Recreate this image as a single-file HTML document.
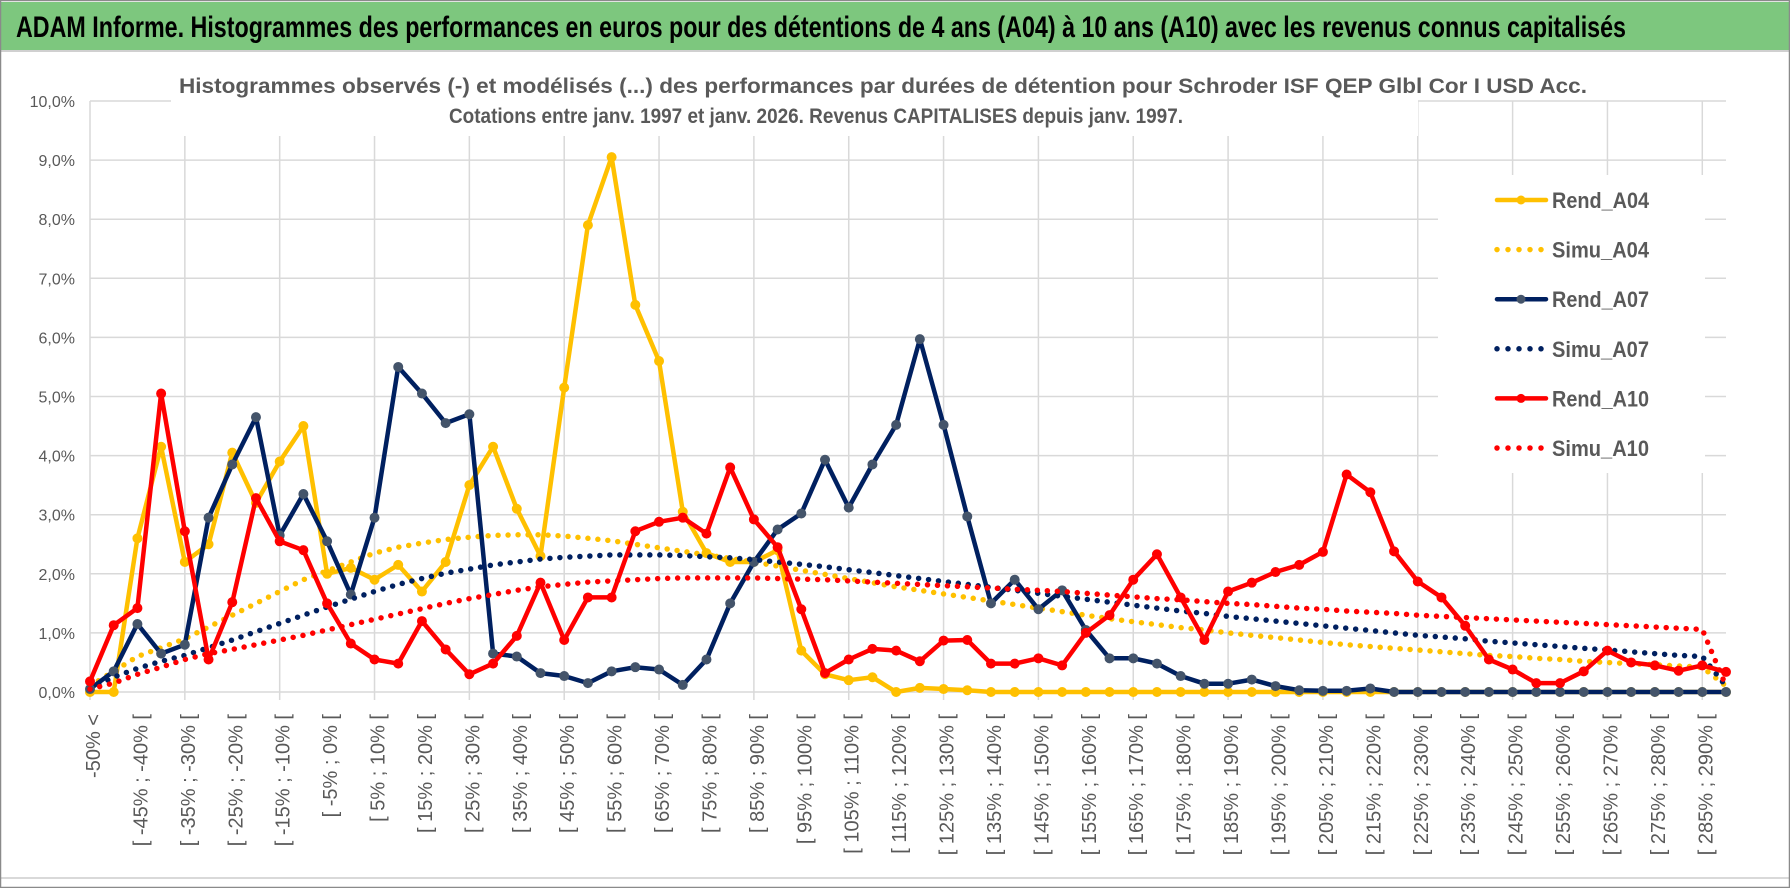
<!DOCTYPE html>
<html>
<head>
<meta charset="utf-8">
<style>
  html,body{margin:0;padding:0;background:#fff;}
  svg{display:block;}
  text{font-family:"Liberation Sans",sans-serif;}
</style>
</head>
<body>
<svg id="chart" width="1790" height="888" viewBox="0 0 1790 888" xmlns="http://www.w3.org/2000/svg">
  <rect x="0" y="0" width="1790" height="888" fill="#fff"/>
  <rect x="1" y="2" width="1788" height="48" fill="#7DC77E"/>
  <text x="16" y="37" font-size="30" font-weight="bold" fill="#000" textLength="1610" lengthAdjust="spacingAndGlyphs">ADAM Informe. Histogrammes des performances en euros pour des détentions de 4 ans (A04) à 10 ans (A10) avec les revenus connus capitalisés</text>
  <line x1="1" y1="51" x2="1789" y2="51" stroke="#d0d0d0" stroke-width="2"/>
  <line x1="1" y1="878" x2="1789" y2="878" stroke="#d9d9d9" stroke-width="2"/>
  <rect x="0.5" y="0.5" width="1789" height="887" fill="none" stroke="#8a8a8a" stroke-width="1.5"/>
  <g id="grid"></g>
  <g id="yaxis"></g>
  <g id="xaxis"></g>
  <g id="series"></g>
  <rect x="171" y="60" width="1247" height="76" fill="#fff"/>
  <text x="179" y="93" font-size="21" font-weight="bold" fill="#595959" textLength="1408" lengthAdjust="spacingAndGlyphs">Histogrammes observés (-) et modélisés (...) des performances par durées de détention pour Schroder ISF QEP Glbl Cor I USD Acc.</text>
  <text x="449" y="123" font-size="21" font-weight="bold" fill="#595959" textLength="734" lengthAdjust="spacingAndGlyphs">Cotations entre janv. 1997 et janv. 2026. Revenus CAPITALISES depuis janv. 1997.</text>
  <g id="legend"></g>
</svg>
<script>
const categories = ["-50% <","[ -50% ; -45% [","[ -45% ; -40% [","[ -40% ; -35% [","[ -35% ; -30% [","[ -30% ; -25% [","[ -25% ; -20% [","[ -20% ; -15% [","[ -15% ; -10% [","[ -10% ; -5% [","[ -5% ; 0% [","[ 0% ; 5% [","[ 5% ; 10% [","[ 10% ; 15% [","[ 15% ; 20% [","[ 20% ; 25% [","[ 25% ; 30% [","[ 30% ; 35% [","[ 35% ; 40% [","[ 40% ; 45% [","[ 45% ; 50% [","[ 50% ; 55% [","[ 55% ; 60% [","[ 60% ; 65% [","[ 65% ; 70% [","[ 70% ; 75% [","[ 75% ; 80% [","[ 80% ; 85% [","[ 85% ; 90% [","[ 90% ; 95% [","[ 95% ; 100% [","[ 100% ; 105% [","[ 105% ; 110% [","[ 110% ; 115% [","[ 115% ; 120% [","[ 120% ; 125% [","[ 125% ; 130% [","[ 130% ; 135% [","[ 135% ; 140% [","[ 140% ; 145% [","[ 145% ; 150% [","[ 150% ; 155% [","[ 155% ; 160% [","[ 160% ; 165% [","[ 165% ; 170% [","[ 170% ; 175% [","[ 175% ; 180% [","[ 180% ; 185% [","[ 185% ; 190% [","[ 190% ; 195% [","[ 195% ; 200% [","[ 200% ; 205% [","[ 205% ; 210% [","[ 210% ; 215% [","[ 215% ; 220% [","[ 220% ; 225% [","[ 225% ; 230% [","[ 230% ; 235% [","[ 235% ; 240% [","[ 240% ; 245% [","[ 245% ; 250% [","[ 250% ; 255% [","[ 255% ; 260% [","[ 260% ; 265% [","[ 265% ; 270% [","[ 270% ; 275% [","[ 275% ; 280% [","[ 280% ; 285% [","[ 285% ; 290% [","[ 290% ; 295% ["];
const yTicks = [0,1,2,3,4,5,6,7,8,9,10];
const yTickLabels = ["0,0%","1,0%","2,0%","3,0%","4,0%","5,0%","6,0%","7,0%","8,0%","9,0%","10,0%"];
const rendA04 = [0,0,2.6,4.15,2.2,2.5,4.05,3.2,3.9,4.5,2.0,2.1,1.9,2.15,1.7,2.2,3.5,4.15,3.1,2.3,5.15,7.9,9.05,6.55,5.6,3.05,2.35,2.2,2.2,2.4,0.7,0.3,0.2,0.25,0,0.07,0.05,0.03,0,0,0,0,0,0,0,0,0,0,0,0,0,0,0,0,0,0,0,0,0,0,0,0,0,0,0,0,0,0,0,0];
const simuA04 = [0.1,0.35,0.6,0.75,0.9,1.1,1.3,1.5,1.7,1.9,2.05,2.2,2.35,2.45,2.52,2.58,2.62,2.65,2.66,2.66,2.64,2.6,2.56,2.5,2.44,2.38,2.32,2.26,2.2,2.13,2.06,1.99,1.92,1.85,1.78,1.72,1.66,1.6,1.54,1.48,1.42,1.36,1.3,1.24,1.19,1.14,1.09,1.05,1.0,0.96,0.92,0.88,0.84,0.8,0.77,0.74,0.71,0.68,0.65,0.62,0.6,0.57,0.55,0.52,0.5,0.48,0.46,0.44,0.42,0.1];
const rendA07 = [0.05,0.35,1.15,0.65,0.8,2.95,3.85,4.65,2.65,3.35,2.55,1.65,2.95,5.5,5.05,4.55,4.7,0.65,0.6,0.32,0.27,0.15,0.35,0.42,0.38,0.12,0.55,1.5,2.2,2.75,3.02,3.93,3.12,3.85,4.52,5.97,4.52,2.97,1.5,1.9,1.4,1.72,1.05,0.57,0.57,0.48,0.27,0.14,0.14,0.21,0.1,0.03,0.02,0.02,0.06,0,0,0,0,0,0,0,0,0,0,0,0,0,0,0];
const simuA07 = [0.05,0.25,0.4,0.52,0.62,0.75,0.88,1.02,1.16,1.3,1.44,1.57,1.7,1.82,1.92,2.01,2.08,2.15,2.2,2.25,2.28,2.3,2.32,2.32,2.32,2.31,2.29,2.27,2.24,2.2,2.16,2.12,2.07,2.02,1.97,1.92,1.87,1.82,1.77,1.72,1.67,1.62,1.57,1.52,1.47,1.42,1.37,1.33,1.28,1.24,1.2,1.16,1.12,1.08,1.04,1.0,0.96,0.93,0.9,0.86,0.83,0.8,0.77,0.74,0.71,0.68,0.65,0.62,0.6,0.1];
const rendA10 = [0.18,1.13,1.42,5.05,2.72,0.55,1.52,3.28,2.55,2.4,1.5,0.82,0.55,0.48,1.2,0.72,0.3,0.48,0.95,1.85,0.88,1.6,1.6,2.72,2.88,2.95,2.68,3.8,2.92,2.45,1.4,0.32,0.55,0.73,0.7,0.52,0.87,0.88,0.48,0.48,0.57,0.45,1.0,1.3,1.9,2.33,1.6,0.88,1.7,1.85,2.03,2.15,2.37,3.68,3.38,2.38,1.87,1.6,1.12,0.55,0.38,0.15,0.15,0.35,0.7,0.5,0.45,0.36,0.45,0.34];
const simuA10 = [0.05,0.15,0.3,0.42,0.55,0.65,0.72,0.8,0.88,0.96,1.05,1.14,1.23,1.32,1.41,1.5,1.58,1.65,1.72,1.78,1.82,1.86,1.88,1.9,1.92,1.93,1.93,1.93,1.93,1.92,1.91,1.9,1.88,1.86,1.84,1.82,1.8,1.78,1.76,1.74,1.72,1.7,1.67,1.64,1.61,1.58,1.56,1.53,1.5,1.48,1.45,1.42,1.4,1.37,1.35,1.33,1.3,1.28,1.26,1.24,1.22,1.2,1.18,1.16,1.14,1.12,1.1,1.08,1.06,0.1];
const seriesNames = ["Rend_A04","Simu_A04","Rend_A07","Simu_A07","Rend_A10","Simu_A10"];

const NS = "http://www.w3.org/2000/svg";
const X0 = 90, X1 = 1726, Y0 = 692, Y10 = 101;
function xPos(i){ return X0 + i * (X1 - X0) / (categories.length - 1); }
function yPos(v){ return Y0 - v * (Y0 - Y10) / 10; }
function mk(tag, attrs, parent){
  const e = document.createElementNS(NS, tag);
  for (const k in attrs) e.setAttribute(k, attrs[k]);
  parent.appendChild(e);
  return e;
}
const grid = document.getElementById('grid');
const yaxis = document.getElementById('yaxis');
const xaxis = document.getElementById('xaxis');
const seriesG = document.getElementById('series');
const legend = document.getElementById('legend');

yTicks.forEach((t, k) => {
  const ln = mk('line', {x1: X0, x2: X1, y1: yPos(t), y2: yPos(t), stroke: '#d9d9d9', 'stroke-width': 1.5}, grid);
  
  
  const tx = mk('text', {x: 75, y: yPos(t) + 6, 'text-anchor': 'end', 'font-size': 16, fill: '#595959'}, yaxis);
  tx.textContent = yTickLabels[k];
  
  
});
for (let i = 0; i < categories.length; i += 4) {
  const ln = mk('line', {x1: xPos(i), x2: xPos(i), y1: Y10, y2: Y0 + 8, stroke: '#d9d9d9', 'stroke-width': 1.5}, grid);
  
  
}
categories.forEach((c, i) => {
  if (i % 2) return;
  const x = xPos(i) + 10, y = 714;
  const tx = mk('text', {x: x, y: y, 'text-anchor': 'end', 'font-size': 20, fill: '#595959', transform: 'rotate(-90 ' + x + ' ' + y + ')'}, xaxis);
  tx.textContent = c;
  
  
});

function drawSolid(vals, color, markerColor, name){
  const g = mk('g', {}, seriesG);
  
  
  const pts = vals.map((v, i) => xPos(i).toFixed(1) + ',' + yPos(v).toFixed(1)).join(' ');
  mk('polyline', {points: pts, fill: 'none', stroke: color, 'stroke-width': 4.5, 'stroke-linejoin': 'round', 'stroke-linecap': 'round'}, g);
  vals.forEach((v, i) => {
    const c = mk('circle', {cx: xPos(i), cy: yPos(v), r: 4.5, fill: markerColor, stroke: markerColor}, g);
    
    
  });
}
function drawDotted(vals, color, name){
  const pts = vals.map((v, i) => xPos(i).toFixed(1) + ',' + yPos(v).toFixed(1)).join(' ');
  const p = mk('polyline', {points: pts, fill: 'none', stroke: color, 'stroke-width': 5.5, 'stroke-linecap': 'round', 'stroke-dasharray': '0 10'}, seriesG);
  
  
}
drawSolid(rendA04, '#FFC000', '#FFC000', 'series-rend-a04');
drawDotted(simuA04, '#FFC000', 'series-simu-a04');
drawSolid(rendA07, '#002060', '#44546A', 'series-rend-a07');
drawDotted(simuA07, '#002060', 'series-simu-a07');
drawSolid(rendA10, '#FF0000', '#FF0000', 'series-rend-a10');
drawDotted(simuA10, '#FF0000', 'series-simu-a10');

// legend
const lbg = mk('rect', {x: 1438, y: 175, width: 267, height: 298, fill: '#fff'}, legend);


const legColors = ['#FFC000','#FFC000','#002060','#002060','#FF0000','#FF0000'];
const legMarkers = ['#FFC000',null,'#44546A',null,'#FF0000',null];
seriesNames.forEach((n, k) => {
  const y = 200 + k * 49.6;
  const g = mk('g', {}, legend);
  
  
  if (legMarkers[k]) {
    mk('line', {x1: 1497, x2: 1546, y1: y, y2: y, stroke: legColors[k], 'stroke-width': 4.5, 'stroke-linecap': 'round'}, g);
    mk('circle', {cx: 1521, cy: y, r: 4.5, fill: legMarkers[k]}, g);
  } else {
    mk('line', {x1: 1497, x2: 1546, y1: y, y2: y, stroke: legColors[k], 'stroke-width': 5.5, 'stroke-linecap': 'round', 'stroke-dasharray': '0 11'}, g);
  }
  const t = mk('text', {x: 1552, y: y + 8, 'font-size': 22, 'font-weight': 'bold', fill: '#595959', textLength: 97, lengthAdjust: 'spacingAndGlyphs'}, g);
  t.textContent = n;
});
</script>
</body>
</html>
